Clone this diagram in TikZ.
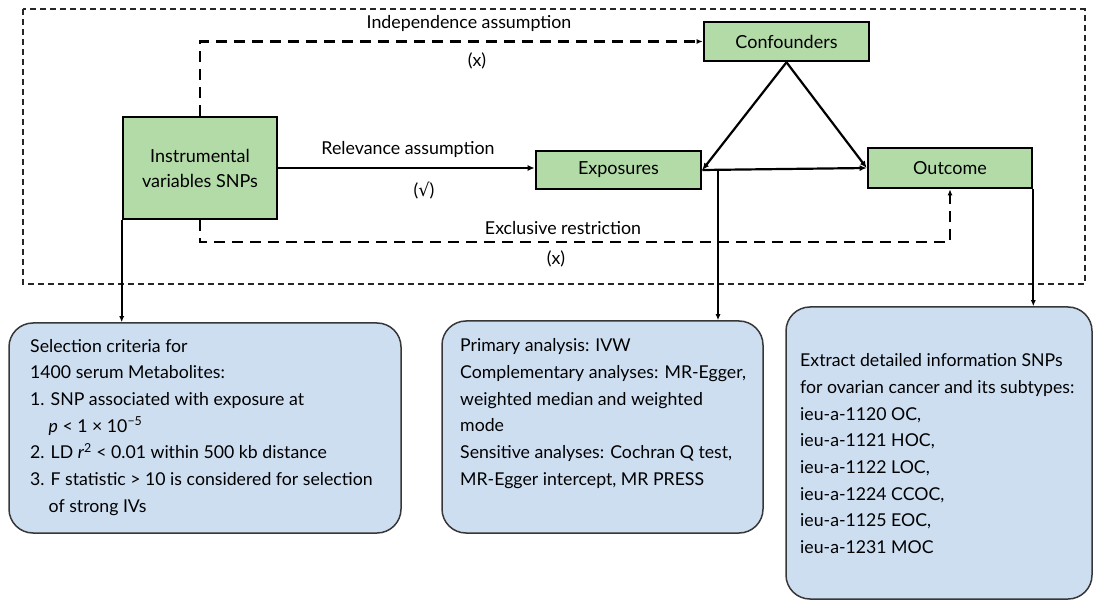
\documentclass[tikz,border=0pt]{standalone}
\usepackage{fontspec}
\setmainfont{Lato}
\newfontfamily\symfont{DejaVu Sans}
\usetikzlibrary{arrows.meta}
\definecolor{gfill}{RGB}{179,219,168}
\definecolor{bfill}{RGB}{205,222,241}
\definecolor{bord}{RGB}{55,55,55}
\tikzset{
  gbox/.style={draw=black, line width=2.6pt, fill=gfill, inner sep=0pt, align=center,
    font=\fontsize{18}{25}\selectfont},
  bbox/.style={draw=bord, line width=1.5pt, fill=bfill, rounded corners=24pt, inner sep=0pt},
  btext/.style={anchor=north west, inner sep=0pt, align=left,
    font=\fontsize{17.7}{26.7}\selectfont},
  lbl/.style={inner sep=0pt, font=\fontsize{17.8}{20}\selectfont},
  solidarrow/.style={draw=black, line width=2.2pt, -{Latex[length=7pt,width=6pt]}},
  dasharrow/.style={draw=black, line width=2.8pt, dash pattern=on 11pt off 7pt,
    -{Latex[length=6pt,width=5pt]}},
  frame/.style={draw=black!85, line width=2pt, dash pattern=on 6pt off 4pt},
}
\begin{document}
\begin{tikzpicture}[x=1pt,y=-1pt]
\useasboundingbox (0,0) rectangle (1094,601);
% outer frame
\draw[frame] (22.8,9.5) rectangle (1085,284);

% green nodes
\node[gbox, minimum width=154pt, minimum height=102pt] (iv) at (200,168) {Instrumental\\variables SNPs};
\node[gbox, minimum width=165pt, minimum height=38pt] (exp) at (618.5,170) {Exposures};
\node[gbox, minimum width=165pt, minimum height=39pt] (conf) at (786.5,41.5) {Confounders};
\node[gbox, minimum width=164pt, minimum height=40pt] (out) at (950,168) {Outcome};

% lower boxes
\node[bbox, minimum width=392pt, minimum height=210pt] (lbox) at (205,428) {};
\node[bbox, minimum width=321pt, minimum height=212pt] (mbox) at (602.5,427) {};
\node[bbox, minimum width=306pt, minimum height=292pt] (rbox) at (939,453) {};

\node[btext] (lt) at (30,338.8) {Selection criteria for\\
1400 serum Metabolites:\\
1. SNP associated with exposure at\\
\hspace*{18.5pt}\textit{p} < 1 × 10\textsuperscript{−5}\\
2. LD \textit{r}\textsuperscript{2} < 0.01 within 500 kb distance\\
3. F statistic > 10 is considered for selection\\
\hspace*{18.5pt}of strong IVs};

\node[btext] (mt) at (460,338.5) {Primary analysis: IVW\\
Complementary analyses: MR-Egger,\\
weighted median and weighted\\
mode\\
Sensitive analyses: Cochran Q test,\\
MR-Egger intercept, MR PRESS};

\node[btext] (rt) at (800,353.5) {Extract detailed information SNPs\\
for ovarian cancer and its subtypes:\\
ieu-a-1120 OC,\\
ieu-a-1121 HOC,\\
ieu-a-1122 LOC,\\
ieu-a-1224 CCOC,\\
ieu-a-1125 EOC,\\
ieu-a-1231 MOC};

% labels
\node[lbl] (indl) at (469,23) {Independence assumption};
\node[lbl] (indx) at (477,61) {(x)};
\node[lbl] (rell) at (408,149) {Relevance assumption};
\node[lbl] (relv) at (424,191) {({\symfont √})};
\node[lbl] (excl) at (563,228) {Exclusive restriction};
\node[lbl] (excx) at (556,259) {(x)};

% connectors
\draw[solidarrow] (iv.east) -- (iv.east -| exp.west);
\draw[dasharrow] (iv.north) |- (conf.west);
\coordinate (exA) at (200,242);
\coordinate (exB) at (950,242);
\draw[dasharrow] (iv.south) -- (exA) -- (exB) -- (out.south);
\draw[solidarrow] (conf.south) -- (exp.east);
\draw[solidarrow] (conf.south) -- (out.west);
\draw[solidarrow] (exp.east) -- (out.west);

\coordinate (m1) at (718,170);
\draw[draw=black, line width=2pt, -{Latex[length=6pt,width=5pt]}] (m1) -- (m1 |- mbox.north);
\draw[draw=black, line width=2pt, -{Latex[length=6pt,width=5pt]}] (iv.south west) -- (iv.south west |- lbox.north);
\draw[draw=black, line width=2pt, -{Latex[length=6pt,width=5pt]}] (out.south east) -- (out.south east |- rbox.north);
\end{tikzpicture}
\end{document}
